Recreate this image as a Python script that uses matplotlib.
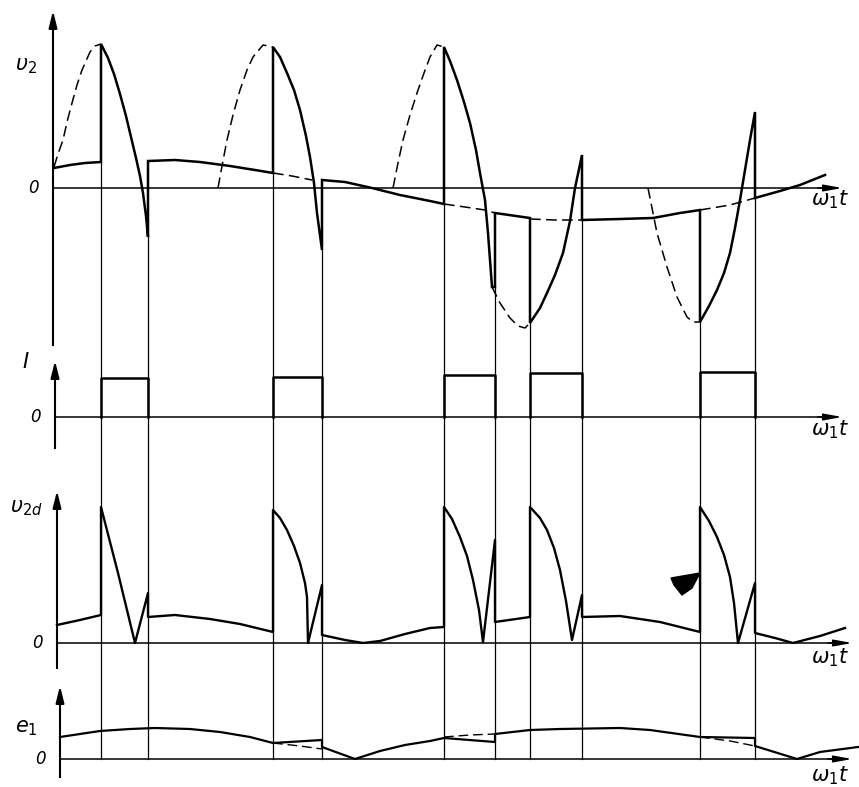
import numpy as np
import matplotlib
matplotlib.use("Agg")
import matplotlib.pyplot as plt

# time axis: omega_1 t, in drawing units; values relative to each zero line
switch_t = [101, 148, 273, 322, 444, 495, 530, 582, 700, 755]

# --- V2 panel ---
v2_solid = [(54, 20), (70, 23), (85, 25), (101, 26), (101, 144), (108, 130), (114, 114),
            (120, 94), (126, 72), (131, 51), (136, 30), (140, 12), (143, -5), (146, -28),
            (148, -49), (148, 27), (175, 28), (200, 26), (230, 22), (255, 18), (273, 15),
            (273, 141), (280, 131), (287, 115), (294, 98), (300, 78), (306, 52), (310, 31),
            (314, 5), (317, -25), (322, -62), (322, 8), (345, 6), (372, 0), (400, -7),
            (430, -13), (444, -16), (444, 141), (450, 127), (457, 108), (464, 86), (470, 65),
            (476, 38), (480, 15), (485, -12), (488, -45), (492, -99), (495, -99), (495, -25),
            (530, -30), (530, -135), (540, -120), (547, -105), (555, -87), (563, -65),
            (570, -33), (575, 0), (582, 33), (582, -32), (620, -31), (653, -30), (680, -25),
            (700, -22), (700, -134), (709, -118), (717, -102), (724, -85), (730, -65),
            (735, -40), (740, -12), (745, 18), (750, 48), (755, 76), (755, -10), (780, -3),
            (800, 3), (825, 13)]
v2_dashed = [
    [(54, 21), (58, 34), (63, 48), (67, 66), (72, 85), (77, 103), (82, 118), (90, 136),
     (95, 142), (101, 144)],
    [(218, 0), (222, 22), (227, 48), (233, 73), (240, 98), (247, 118), (253, 131),
     (263, 143), (273, 141)],
    [(393, 0), (398, 25), (403, 48), (410, 73), (417, 95), (424, 115), (430, 131),
     (437, 143), (444, 141)],
    [(273, 15), (292, 12), (312, 8)],
    [(444, -16), (465, -19), (485, -22), (495, -25)],
    [(530, -31), (555, -32), (582, -32)],
    [(700, -22), (730, -17), (755, -10)],
    [(492, -99), (500, -115), (510, -130), (518, -138), (525, -140), (530, -135)],
    [(648, 0), (652, -20), (657, -45), (667, -79), (677, -109), (687, -129),
     (693, -134), (700, -134)],
]

# --- I panel ---
i_on = [101, 273, 444, 530, 700]
i_off = [148, 322, 495, 582, 755]
i_level = [39, 40, 42, 44, 45]

# --- V2d panel ---
v2d = [(57, 18), (80, 23), (101, 28), (101, 136), (118, 70), (135, 0), (148, 50), (148, 26),
       (175, 28), (210, 24), (240, 19), (273, 11), (273, 133), (280, 125), (287, 113),
       (294, 97), (300, 80), (305, 60), (307, 46), (308, 0), (322, 58), (322, 8), (345, 3),
       (363, 0), (380, 2), (405, 9), (430, 15), (444, 16), (444, 136), (452, 124),
       (460, 106), (467, 87), (473, 63), (479, 33), (483, 1), (495, 103), (495, 21),
       (530, 26), (530, 136), (540, 125), (547, 113), (554, 95), (560, 73), (566, 42),
       (572, 3), (582, 48), (582, 26), (620, 27), (660, 21), (700, 11), (700, 136),
       (709, 122), (717, 106), (724, 88), (730, 66), (734, 40), (738, 0), (755, 60),
       (755, 10), (775, 5), (793, 0), (820, 7), (845, 15)]
blot = [(671, 65), (700, 70), (692, 55), (682, 48), (674, 58)]

# --- e1 panel ---
e1_solid = [(60, 22), (80, 25), (100, 28), (130, 30), (155, 31), (190, 30), (220, 27),
            (250, 22), (273, 16), (322, 19), (322, 12), (355, 0), (380, 8), (405, 14),
            (430, 18), (444, 21), (495, 17), (495, 25), (530, 29), (560, 30), (620, 31),
            (650, 29), (700, 22), (755, 21), (755, 13), (797, 0), (820, 7), (858, 12)]
e1_dashed = [
    [(273, 16), (300, 13), (322, 10)],
    [(444, 22), (470, 24), (495, 25)],
    [(700, 22), (730, 18), (755, 13)],
]

plt.rcParams['mathtext.fontset'] = 'dejavusans'
fig = plt.figure(figsize=(8.59, 7.87), dpi=100)

H = 787.0
# (top px, bottom px, zero px, axis x, axis bottom, arrow tip, x-arrow end, label, label y, omega label y)
panels = [
    (0, 345, 188, 53, -157, 180, 845, r'$\upsilon_2$', 122, -12),
    (345, 455, 417, 55, -31, 59, 845, r'$I$', 55, -13),
    (455, 670, 643, 57, -25, 155, 855, r'$\upsilon_{2d}$', 135, -15),
    (670, 787, 759, 60, -18, 76, 855, r'$e_1$', 31, -17),
]
axes = []
for top, bot, zero, ax_x, ax_b, tip, xend, lab, laby, wy in panels:
    ax = fig.add_axes([0, 1 - bot / H, 1, (bot - top) / H])
    ax.set_xlim(0, 859)
    ax.set_ylim(zero - bot, zero - top)
    ax.axis('off')
    # axes with arrows
    ax.plot([ax_x, ax_x], [ax_b, tip - 10], color='black', lw=1.5, clip_on=False)
    ax.annotate('', xy=(ax_x, tip), xytext=(ax_x, tip - 22),
                arrowprops=dict(arrowstyle='-|>,head_length=1.0,head_width=0.25',
                                color='black', lw=1.5), annotation_clip=False)
    ax.plot([ax_x, xend - 10], [0, 0], color='black', lw=1.1, clip_on=False)
    ax.annotate('', xy=(xend, 0), xytext=(xend - 30, 0),
                arrowprops=dict(arrowstyle='-|>,head_length=1.1,head_width=0.2',
                                color='black', lw=1.1), annotation_clip=False)
    ax.text(26, laby, lab, fontsize=15, ha='center', va='center', style='italic')
    ax.text(ax_x - 20, 0, '0', fontsize=12, ha='center', va='center', style='italic')
    ax.text(830, wy, r'$\omega_1 t$', fontsize=15, ha='center', va='center')
    axes.append(ax)

ax1, ax2, ax3, ax4 = axes

# V2
x, y = zip(*v2_solid)
ax1.plot(x, y, color='black', lw=1.8, solid_joinstyle='miter', clip_on=False)
for seg in v2_dashed:
    x, y = zip(*seg)
    ax1.plot(x, y, color='black', lw=1.1, linestyle=(0, (7, 3.5)), clip_on=False)

# switching verticals through all panels
lo1 = ax1.get_ylim()[0]
for t in switch_t:
    top = min(v for xx, v in v2_solid if xx == t)
    ax1.plot([t, t], [top, lo1], color='black', lw=0.9)
    ax2.plot([t, t], ax2.get_ylim(), color='black', lw=0.9)
    ax3.plot([t, t], ax3.get_ylim(), color='black', lw=0.9)
    ax4.plot([t, t], [ax4.get_ylim()[1], 0], color='black', lw=0.9)

# I pulses
for a, b, h in zip(i_on, i_off, i_level):
    ax2.plot([a, a, b, b], [0, h, h, 0], color='black', lw=1.8, clip_on=False)

# V2d
x, y = zip(*v2d)
ax3.plot(x, y, color='black', lw=1.7, clip_on=False)
ax3.fill(*zip(*blot), color='black')

# e1
x, y = zip(*e1_solid)
ax4.plot(x, y, color='black', lw=1.6, clip_on=False)
for seg in e1_dashed:
    x, y = zip(*seg)
    ax4.plot(x, y, color='black', lw=1.0, linestyle=(0, (7, 3.5)), clip_on=False)

fig.savefig('out.png', dpi=100, facecolor='white')
